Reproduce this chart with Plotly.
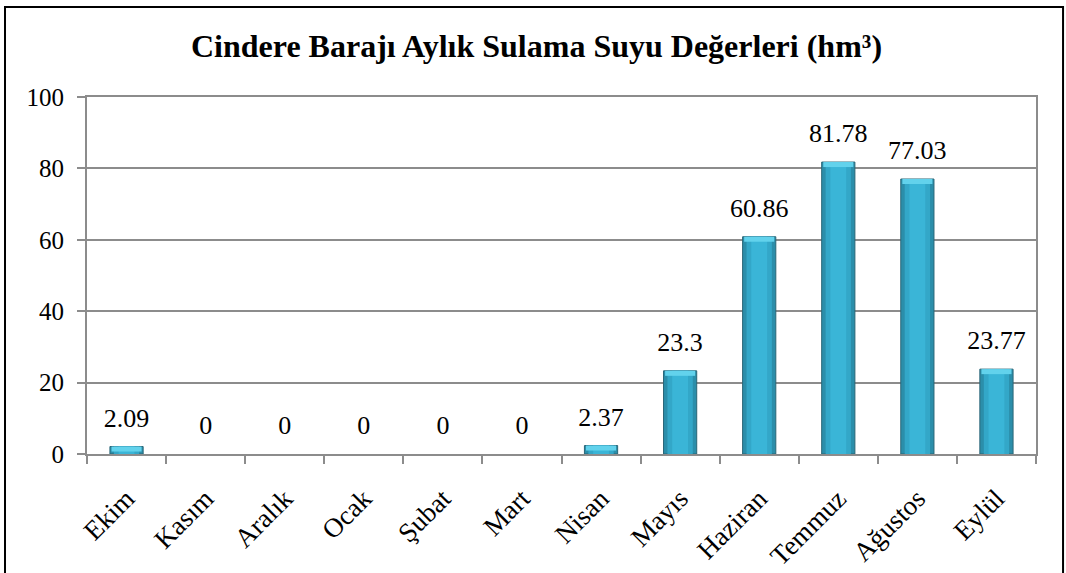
import plotly.graph_objects as go

months = ["Ekim", "Kasım", "Aralık", "Ocak", "Şubat", "Mart", "Nisan",
          "Mayıs", "Haziran", "Temmuz", "Ağustos", "Eylül"]
values = [2.09, 0, 0, 0, 0, 0, 2.37, 23.3, 60.86, 81.78, 77.03, 23.77]
labels = ["2.09", "0", "0", "0", "0", "0", "2.37", "23.3", "60.86", "81.78", "77.03", "23.77"]
y_ticks = [0, 20, 40, 60, 80, 100]

SERIF = "Times New Roman"
GRID = "#8c8c8c"

edge_w = [1 if v > 0 else 0 for v in values]
cap_h = [min(v, 1.4) for v in values]
cap_base = [v - min(v, 1.4) for v in values]

fig = go.Figure()
fig.add_trace(go.Bar(x=months, y=values, width=0.42,
                     marker=dict(color="#2b8eaa", line=dict(color="#2a6677", width=edge_w)),
                     hoverinfo="skip", showlegend=False))
fig.add_trace(go.Bar(x=months, y=values, width=0.32,
                     marker=dict(color="#33a7c8", line=dict(width=0)),
                     hoverinfo="skip", showlegend=False))
fig.add_trace(go.Bar(x=months, y=values, width=0.20,
                     marker=dict(color="#3ab5d7", line=dict(width=0)),
                     hoverinfo="skip", showlegend=False))
fig.add_trace(go.Bar(x=months, y=cap_h, base=cap_base, width=0.38,
                     marker=dict(color="#62d2ec", line=dict(width=0)),
                     hoverinfo="skip", showlegend=False))
fig.add_trace(go.Scatter(x=months, y=values, mode="markers+text", text=labels,
                         textposition="top center",
                         textfont=dict(family=SERIF, size=26, color="#000000"),
                         marker=dict(size=20, opacity=0),
                         cliponaxis=False, hoverinfo="skip", showlegend=False))

fig.update_layout(
    width=1066, height=573,
    barmode="overlay",
    paper_bgcolor="white", plot_bgcolor="white",
    margin=dict(l=87, r=30, t=97, b=119, autoexpand=False),
    title=dict(text="<b>Cindere Barajı Aylık Sulama Suyu Değerleri (hm³)</b>",
               x=0.5033, xanchor="center", y=1 - 46 / 573, yanchor="middle",
               font=dict(family=SERIF, size=32, color="#000000")),
    font=dict(family=SERIF, color="#000000"),
    shapes=[dict(type="rect", xref="paper", yref="paper",
                 x0=-0.0864, x1=1.0285, y0=-0.4, y1=1.2521,
                 line=dict(color="#000000", width=2), fillcolor="rgba(0,0,0,0)",
                 layer="below")],
)
fig.update_xaxes(type="category", categoryorder="array", categoryarray=months,
                 tickangle=-45, tickfont=dict(family=SERIF, size=27), automargin=False,
                 showline=True, linecolor=GRID, linewidth=2, mirror=True,
                 ticks="outside", tickson="boundaries", ticklen=8, tickcolor=GRID, tickwidth=2,
                 showgrid=False, range=[-0.5, 11.5], ticklabelstandoff=16)
fig.update_yaxes(range=[0, 100], tickvals=y_ticks, tickfont=dict(family=SERIF, size=25),
                 automargin=False,
                 showline=True, linecolor=GRID, linewidth=2, mirror=True,
                 ticks="outside", ticklen=8, tickcolor=GRID, tickwidth=2,
                 showgrid=True, gridcolor=GRID, gridwidth=1.5, zeroline=False,
                 ticklabelstandoff=8)

fig.write_html("out.html", config={"displayModeBar": False},
               post_script="document.body.style.margin='0';")
